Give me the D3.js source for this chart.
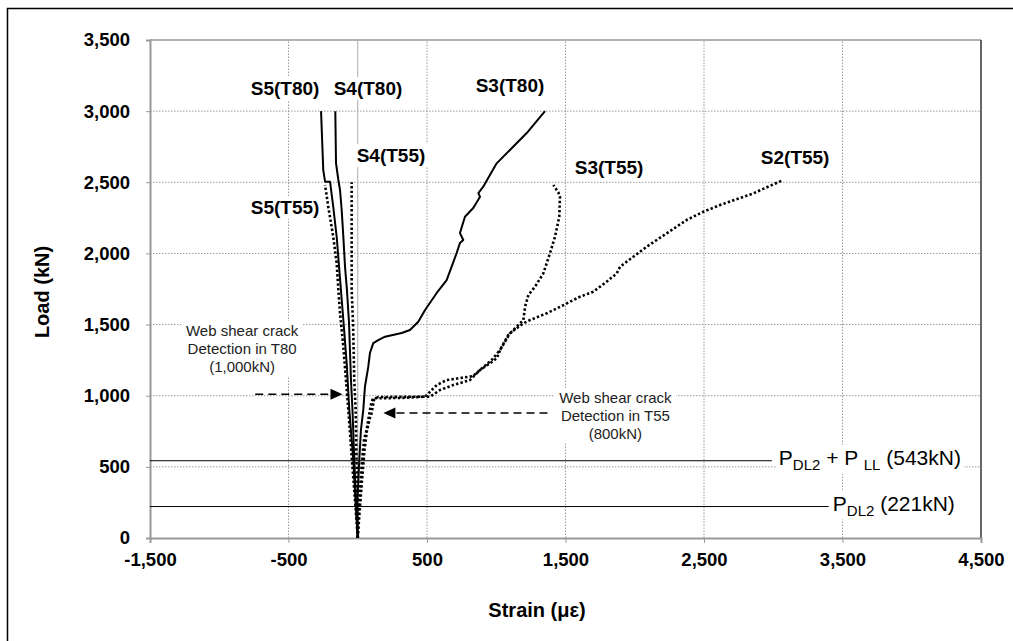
<!DOCTYPE html>
<html><head><meta charset="utf-8">
<script src="https://cdn.jsdelivr.net/npm/d3@7/dist/d3.min.js"></script>
<style>body{margin:0;background:#fff;} svg{display:block;font-family:"Liberation Sans",Arial,sans-serif;}</style>
</head><body><svg id="c" width="1013" height="641"></svg>
<script>
// ---- data: [strain (με), load (kN)] ----
const s5T80 = [[0,0],[-16,267],[-32,548],[-61,900],[-80,1230],[-104,1532],[-133,1883],[-152,2117],[-177,2328],[-200,2504],[-236,2504],[-249,2586],[-265,3000]];
const s4T80 = [[0,0],[-13,267],[-25,548],[-38,900],[-49,1110],[-63,1511],[-78,1743],[-92,1907],[-104,2117],[-116,2305],[-128,2446],[-140,2516],[-157,2635],[-162,3000]];
const s3T80 = [[0,0],[-2,267],[11,548],[23,759],[40,900],[52,1063],[76,1204],[88,1300],[112,1370],[148,1391],[197,1415],[317,1441],[377,1462],[437,1520],[486,1602],[570,1722],[642,1813],[678,1907],[714,2003],[738,2073],[762,2094],[738,2143],[774,2258],[834,2319],[883,2398],[871,2424],[906,2469],[1003,2633],[1099,2727],[1220,2846],[1352,3000]];
const s4T55 = [[0,0],[-2,197],[-9,548],[-15,900],[-25,1110],[-34,1511],[-44,1743],[-44,2100],[-44,2500]];
const s5T55 = [[0,0],[-20,267],[-42,548],[-68,900],[-85,1110],[-104,1344],[-128,1581],[-140,1743],[-152,1930],[-177,2117],[-213,2328],[-236,2481]];
const s3T55 = [[0,0],[9,126],[31,408],[49,618],[67,759],[88,843],[100,878],[117,970],[146,991],[522,993],[594,1040],[690,1075],[810,1110],[883,1181],[955,1228],[1003,1263],[1039,1344],[1087,1427],[1148,1485],[1196,1532],[1208,1625],[1232,1708],[1280,1766],[1340,1860],[1388,2001],[1424,2117],[1455,2258],[1460,2398],[1448,2430],[1412,2481]];
const s2T55 = [[0,0],[2,126],[16,337],[31,548],[45,689],[64,759],[76,829],[88,900],[100,958],[112,982],[305,984],[486,993],[570,1075],[642,1110],[738,1124],[832,1138],[967,1251],[1027,1321],[1099,1438],[1196,1509],[1244,1532],[1364,1579],[1484,1636],[1605,1696],[1701,1731],[1797,1801],[1870,1860],[1894,1906],[1990,1977],[2086,2047],[2230,2141],[2375,2235],[2495,2293],[2616,2340],[2856,2422],[3061,2511]];

const xTicks = [-1500,-500,500,1500,2500,3500,4500];
const yTicks = [0,500,1000,1500,2000,2500,3000,3500];
const loadLines = [543, 221];

// ---- scales ----
const svg = d3.select("#c");
const x = d3.scaleLinear().domain([-1500,4500]).range([150,981]);
const y = d3.scaleLinear().domain([0,3500]).range([538,40]);
const fmt = d => d3.format(",")(d).replace("\u2212","-");

// outer frame
svg.append("rect").attr("x",7.5).attr("y",8.5).attr("width",1040).attr("height",700)
  .attr("fill","none").attr("stroke","#000").attr("stroke-width",1.5);

// gridlines
const g = svg.append("g");
g.selectAll(".hg").data(yTicks.filter(d=>d>0&&d<3500)).join("line")
  .attr("x1",x(-1500)).attr("x2",x(4500)).attr("y1",d=>y(d)).attr("y2",d=>y(d))
  .attr("stroke","#999").attr("stroke-dasharray","1.5,1.5");
g.selectAll(".vg").data(xTicks.filter(d=>d>-1500&&d<4500)).join("line")
  .attr("x1",d=>x(d)).attr("x2",d=>x(d)).attr("y1",y(0)).attr("y2",y(3500))
  .attr("stroke","#999").attr("stroke-dasharray","1.5,1.5");

// plot frame
svg.append("line").attr("x1",x(-1500)).attr("x2",x(4500)).attr("y1",y(3500)).attr("y2",y(3500)).attr("stroke","#999").attr("stroke-width",1.5);
svg.append("line").attr("x1",x(4500)).attr("x2",x(4500)).attr("y1",y(3500)).attr("y2",y(0)).attr("stroke","#333").attr("stroke-width",1.5);
// vertical zero axis
svg.append("line").attr("x1",x(0)).attr("x2",x(0)).attr("y1",y(3500)).attr("y2",y(0)).attr("stroke","#aaa").attr("stroke-width",1);

// axes
const xAxis = d3.axisBottom(x).tickValues(xTicks).tickFormat(fmt).tickSize(5).tickPadding(6);
const yAxis = d3.axisLeft(y).tickValues(yTicks).tickFormat(fmt).tickSize(4).tickPadding(16);
const gx = svg.append("g").attr("transform",`translate(0,${y(0)})`).call(xAxis);
const gy = svg.append("g").attr("transform",`translate(${x(-1500)},0)`).call(yAxis);
[gx,gy].forEach(a=>{
  a.select(".domain").attr("stroke","#999").attr("stroke-width",2);
  a.selectAll(".tick line").attr("stroke","#999");
  a.selectAll("text").attr("font-size",18.5).attr("font-weight","bold").attr("fill","#000")
   .attr("font-family","'Liberation Sans',Arial,sans-serif");
});
gx.selectAll("text").attr("dy","0.9em");

// axis titles
svg.append("text").attr("x",537).attr("y",617).attr("text-anchor","middle")
  .attr("font-size",20).attr("font-weight","bold").text("Strain (με)");
svg.append("text").attr("transform","translate(49,292) rotate(-90)").attr("text-anchor","middle")
  .attr("font-size",20).attr("font-weight","bold").text("Load (kN)");

// reference load lines
const refEnds = [2990, 3400];
svg.selectAll(".ref").data(loadLines).join("line")
  .attr("x1",x(-1500)).attr("x2",(d,i)=>x(refEnds[i])).attr("y1",d=>y(d)).attr("y2",d=>y(d))
  .attr("stroke","#000").attr("stroke-width",1);

// helper for labels with white backgrounds
const labelLayer = svg.append("g");
const bgLayer = labelLayer.append("g");
function bg(t, pad){
  const b = t.node().getBBox();
  bgLayer.append("rect").attr("x",b.x-pad).attr("y",b.y-1).attr("width",b.width+2*pad).attr("height",b.height+2).attr("fill","#fff");
}

// reference labels
function refLabel(load, xStrain, sub2, tail){
  const t = labelLayer.append("text").attr("x",x(xStrain)).attr("y",y(load)+4).attr("font-size",21).attr("fill","#000");
  t.append("tspan").text("P");
  t.append("tspan").attr("font-size",15).attr("dy",5).text("DL2");
  if(sub2){
    t.append("tspan").attr("dy",-5).text(" + P ");
    t.append("tspan").attr("font-size",15).attr("dy",5).text("LL");
  }
  t.append("tspan").attr("dy",-5).text(" (" + tail + ")");
  bg(t,3);
}
refLabel(543, 3040, true, "543kN");
refLabel(221, 3430, false, "221kN");

// series lines
const line = d3.line().x(d=>x(d[0])).y(d=>y(d[1]));
const seriesList = [
  {name:"S5(T80)", data:s5T80, dotted:false, lab:[-525,3162]},
  {name:"S4(T80)", data:s4T80, dotted:false, lab:[74,3162]},
  {name:"S3(T80)", data:s3T80, dotted:false, lab:[1099,3183]},
  {name:"S4(T55)", data:s4T55, dotted:true, lab:[240,2692]},
  {name:"S5(T55)", data:s5T55, dotted:true, lab:[-525,2325]},
  {name:"S3(T55)", data:s3T55, dotted:true, lab:[1815,2608]},
  {name:"S2(T55)", data:s2T55, dotted:true, lab:[3158,2677]}
];
seriesList.forEach(s=>{
  const t = labelLayer.append("text").attr("x",x(s.lab[0])).attr("y",y(s.lab[1])+7)
    .attr("text-anchor","middle").attr("font-size",19).attr("font-weight","bold").text(s.name);
  bg(t,4);
});
const lineLayer = svg.append("g");
seriesList.forEach(s=>{
  lineLayer.append("path").attr("d",line(s.data)).attr("fill","none").attr("stroke","#000")
    .attr("stroke-width",s.dotted?2.6:2).attr("stroke-dasharray",s.dotted?"2.4,2.2":null)
    .attr("stroke-linejoin","round");
});

// annotations
const notes = [
  {lines:["Web shear crack","Detection in T80","(1,000kN)"], at:[-835,1420], from:[-740,1010], to:[-110,1010]},
  {lines:["Web shear crack","Detection in T55","(800kN)"], at:[1860,950], from:[1370,878], to:[185,878]}
];
notes.forEach(n=>{
  const t = labelLayer.append("text").attr("x",x(n.at[0])).attr("y",y(n.at[1])).attr("text-anchor","middle")
    .attr("font-size",15).attr("fill","#222");
  n.lines.forEach((l,i)=>t.append("tspan").attr("x",x(n.at[0])).attr("dy",i?18:0).text(l));
  bg(t,4);
  const x1 = x(n.from[0]), x2 = x(n.to[0]), yy = y(n.from[1]);
  const dir = Math.sign(x2-x1);
  svg.append("line").attr("x1",x1).attr("x2",x2-dir*11).attr("y1",yy).attr("y2",yy)
    .attr("stroke","#000").attr("stroke-width",1.6).attr("stroke-dasharray","8,5");
  svg.append("path").attr("d",`M${x2},${yy} L${x2-dir*12},${yy-5.5} L${x2-dir*12},${yy+5.5} Z`).attr("fill","#000");
});
</script>
</body></html>
